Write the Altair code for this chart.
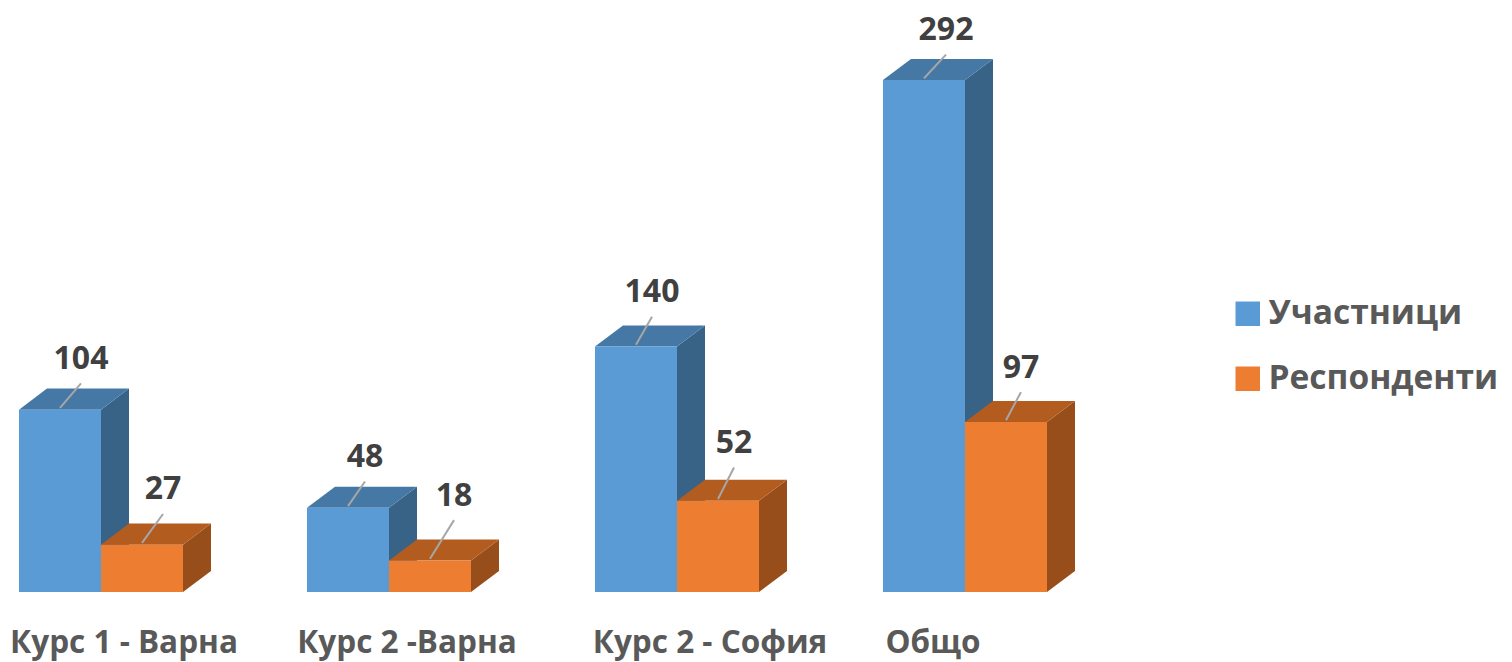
import altair as alt
import pandas as pd

categories = ["Курс 1 - Варна", "Курс 2 -Варна", "Курс 2 - София", "Общо"]
series_names = ["Участници", "Респонденти"]
participants = [104, 48, 140, 292]
respondents = [27, 18, 52, 97]

label_lift = {"Участници": [29, 29, 31, 28.5], "Респонденти": [31.5, 37, 33, 31]}
label_shift = {"Участници": [21, 17, 16, 22], "Респонденти": [21, 24, 16, 15]}
category_shift = [23, 18, 33, -32]

FRONT = {"Участници": "#5B9BD5", "Респонденти": "#ED7D31"}
TOP = {"Участници": "#4578A5", "Респонденти": "#B25C20"}
SIDE = {"Участници": "#386387", "Респонденти": "#974E1B"}

GROUP_START, GROUP_STEP, BAR_W, DEPTH_X, DEPTH_Y = 19, 288, 82, 28, 12
W, H = 1496, 654
PX = 1.7534
X = alt.Scale(domain=[8, 8 + W], nice=False, zero=False)
Y = alt.Scale(domain=[-(H - 584) / PX, 584 / PX], nice=False, zero=False)
C = alt.Scale(domain=series_names, range=[FRONT[s] for s in series_names])
FONT = "Open Sans"


def xq(f):
    return alt.X(f"{f}:Q", scale=X, axis=None, title=None)


def yq(f):
    return alt.Y(f"{f}:Q", scale=Y, axis=None, title=None, stack=None)


layers = []
bar_rows = []
for si, (name, vals) in enumerate(zip(series_names, [participants, respondents])):
    front, side, top = [], [], []
    for ci, v in enumerate(vals):
        x0 = GROUP_START + ci * GROUP_STEP + si * BAR_W
        x1 = x0 + BAR_W
        front.append(dict(x=x0, x2=x1, y=v, y2=0, s=name))
        side += [
            dict(x=x1, y=v, y2=0, k=ci),
            dict(x=x1 + DEPTH_X, y=v + DEPTH_Y, y2=DEPTH_Y, k=ci),
        ]
        top += [
            dict(x=x0, x2=x1, y=v, k=ci),
            dict(x=x0 + DEPTH_X, x2=x1 + DEPTH_X, y=v + DEPTH_Y, k=ci),
        ]
        cx = (x0 + x1) / 2
        lift = label_lift[name][ci]
        shift = label_shift[name][ci]
        bar_rows.append(
            dict(x=cx, xl=cx + shift, y=v + 1, yl=v + lift - 14, yt=v + lift, v=v)
        )
    layers.append(
        alt.Chart(pd.DataFrame(side))
        .mark_area(color=SIDE[name], orient="vertical")
        .encode(x=xq("x"), y=yq("y"), y2="y2:Q", detail="k:N")
    )
    layers.append(
        alt.Chart(pd.DataFrame(top))
        .mark_area(color=TOP[name], orient="horizontal")
        .encode(x=xq("x"), x2="x2:Q", y=yq("y"), detail="k:N")
    )
    layers.append(
        alt.Chart(pd.DataFrame(front))
        .mark_rect()
        .encode(
            x=xq("x"),
            x2="x2:Q",
            y=yq("y"),
            y2="y2:Q",
            color=alt.Color(
                "s:N",
                scale=C,
                sort=series_names,
                legend=alt.Legend(
                    title=None,
                    orient="none",
                    legendX=1223,
                    legendY=289,
                    symbolType="square",
                    symbolSize=600,
                    symbolStrokeWidth=0,
                    symbolOpacity=1,
                    labelFont=FONT,
                    labelFontWeight="bold",
                    labelFontSize=33.5,
                    labelColor="#595959",
                    labelOffset=4,
                    labelLimit=300,
                    rowPadding=30,
                    padding=0,
                ),
            ),
        )
    )

bars = pd.DataFrame(bar_rows)
layers.append(
    alt.Chart(bars)
    .mark_rule(color="#A6A6A6", strokeWidth=2)
    .encode(x=xq("x"), x2="xl:Q", y=yq("y"), y2="yl:Q")
)
layers.append(
    alt.Chart(bars)
    .mark_text(font=FONT, fontWeight="bold", fontSize=32, color="#404040", baseline="middle")
    .encode(x=xq("xl"), y=yq("yt"), text="v:Q")
)

cat_df = pd.DataFrame(
    {
        "c": categories,
        "x": [GROUP_START + i * GROUP_STEP + BAR_W + category_shift[i] for i in range(4)],
        "y": [-29.5] * 4,
    }
)
layers.append(
    alt.Chart(cat_df)
    .mark_text(font=FONT, fontWeight="bold", fontSize=31.5, color="#595959", baseline="middle")
    .encode(x=xq("x"), y=yq("y"), text="c:N")
)

chart = (
    alt.layer(*layers)
    .properties(width=W, height=H, padding=0, autosize=alt.AutoSizeParams(type="none"))
    .configure_view(strokeWidth=0)
)
chart.save("out.html", embed_options={"renderer": "svg", "actions": False})
